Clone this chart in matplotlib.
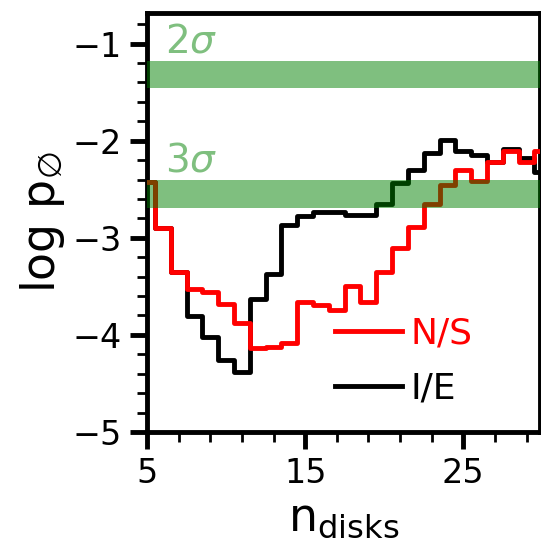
import numpy as np
import matplotlib
matplotlib.use('Agg')
import matplotlib.pyplot as plt
from matplotlib.ticker import MultipleLocator, FixedLocator

# number of disks
n_disks = [5, 6, 7, 8, 9, 10, 11, 12, 13, 14, 15, 16, 17, 18, 19, 20,
           21, 22, 23, 24, 25, 26, 27, 28, 29, 30]
# log p for north/south split
logp_ns = [-2.43, -2.90, -3.35, -3.53, -3.56, -3.68, -3.88, -4.14, -4.12, -4.08,
           -3.66, -3.69, -3.74, -3.50, -3.66, -3.35, -3.11, -2.89, -2.65, -2.46,
           -2.30, -2.42, -2.22, -2.11, -2.22, -2.11]
# log p for inner/outer (I/E) split
logp_ie = [-2.43, -2.90, -3.35, -3.81, -4.02, -4.26, -4.38, -3.63, -3.37, -2.87,
           -2.78, -2.73, -2.73, -2.77, -2.77, -2.65, -2.44, -2.30, -2.13, -1.99,
           -2.11, -2.15, -2.22, -2.09, -2.18, -2.32]
# significance levels (log p) and their labels
sigma_logp = [-1.32, -2.55]
sigma_labels = [r'2$\sigma$', r'3$\sigma$']

fig = plt.figure(figsize=(5.41, 5.46), dpi=100)
ax = fig.add_axes([0.2717, 0.2088, 0.7264, 0.7683])

l_ie, = ax.step(n_disks, logp_ie, where='mid', color='black', lw=3.5, zorder=2)
l_ns, = ax.step(n_disks, logp_ns, where='mid', color='red', lw=3.5, zorder=3)

# shaded bands for 2 and 3 sigma
for y, lab in zip(sigma_logp, sigma_labels):
    ax.axhspan(y - 0.14, y + 0.14, color='green', alpha=0.5, lw=0, zorder=4)
    ax.text(6.15, y + 0.23, lab, color='green', alpha=0.5, fontsize=28)

ax.set_xlim(5, 29.85)
ax.set_ylim(-5, -0.68)

ax.xaxis.set_major_locator(FixedLocator([5, 15, 25]))
ax.xaxis.set_minor_locator(FixedLocator(np.arange(5, 31, 2)))
ax.yaxis.set_major_locator(MultipleLocator(1))
ax.yaxis.set_minor_locator(MultipleLocator(0.2))
ax.tick_params(which='major', length=12, width=3.5, labelsize=24, pad=6)
ax.tick_params(which='minor', length=7, width=2)
for s in ax.spines.values():
    s.set_linewidth(3.5)

ax.set_xlabel(r'n$_{\rm disks}$', fontsize=33)
ax.set_ylabel(r'log p$_\varnothing$', fontsize=33)

ax.legend([l_ns, l_ie], ['N/S', 'I/E'], loc='center left',
          bbox_to_anchor=(0.478, 0.169), frameon=False, fontsize=26,
          labelcolor='linecolor', handlelength=1.85, handletextpad=0.25,
          borderpad=0, borderaxespad=0, labelspacing=0.6)

plt.savefig('out.png', dpi=100)
